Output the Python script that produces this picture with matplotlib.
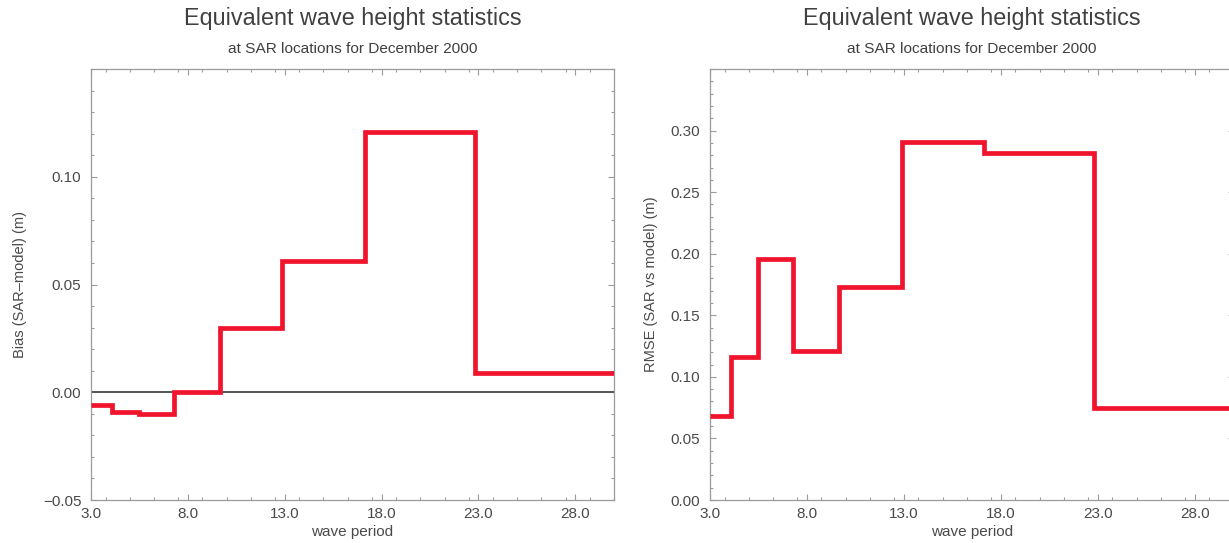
import numpy as np
import matplotlib
matplotlib.use("Agg")
import matplotlib.pyplot as plt
from matplotlib.ticker import MultipleLocator, FormatStrFormatter, FuncFormatter

# wave period bin edges (s)
period_edges = [3.0, 4.08, 5.48, 7.27, 9.66, 12.88, 17.12, 22.81, 30.0]

# statistics per period bin
bias_values = [-0.0061, -0.0092, -0.0101, 0.0003, 0.0298, 0.0611, 0.1208, 0.0090]
rmse_values = [0.068, 0.116, 0.196, 0.121, 0.173, 0.291, 0.282, 0.075]

title_text = "Equivalent wave height statistics"
subtitle_text = "at SAR locations for December 2000"

plt.rcParams['font.family'] = ['Liberation Sans', 'DejaVu Sans']

text_col = "#4a4a4a"
spine_col = "#9a9a9a"
red = "#f0142d"

fig = plt.figure(figsize=(12.29, 5.43), dpi=100)

W, H = 1229.0, 543.0
ax1 = fig.add_axes([91 / W, 43 / H, 523 / W, 431 / H])
ax2 = fig.add_axes([710 / W, 43 / H, 523.5 / W, 431 / H])


def yfmt(v, pos):
    return ("%.2f" % v).replace("-", "\u2212")


def style_axes(ax, ymin, ymax, yticks, ylabel, ylabelpad):
    ax.set_xlim(3.0, 30.0)
    ax.set_ylim(ymin, ymax)
    ax.set_xticks([3.0, 8.0, 13.0, 18.0, 23.0, 28.0])
    ax.xaxis.set_minor_locator(MultipleLocator(1.25))
    ax.set_yticks(yticks)
    ax.yaxis.set_minor_locator(MultipleLocator(0.01))
    ax.xaxis.set_major_formatter(FormatStrFormatter("%.1f"))
    ax.yaxis.set_major_formatter(FuncFormatter(yfmt))
    ax.tick_params(which="both", direction="in", top=True, right=True,
                   color=spine_col, width=0.8, labelcolor=text_col, labelsize=11)
    ax.tick_params(which="major", length=4.5)
    ax.tick_params(which="minor", length=2.2)
    ax.tick_params(axis="x", pad=5)
    ax.tick_params(axis="y", pad=7)
    for s in ax.spines.values():
        s.set_color(spine_col)
        s.set_linewidth(0.9)
    ax.set_xlabel("wave period", fontsize=11, color=text_col, labelpad=3)
    ax.set_ylabel(ylabel, fontsize=10.5, color=text_col, labelpad=ylabelpad)
    ax.set_facecolor("white")

    # titles centred over the axes
    pos = ax.get_position()
    cx = pos.x0 + pos.width / 2
    fig.text(cx, 1 - 18 / H, title_text, ha="center", va="center",
             fontsize=16.8, color="#404040")
    fig.text(cx, 1 - 49 / H, subtitle_text, ha="center", va="center",
             fontsize=11.1, color="#404040")


# Bias panel
style_axes(ax1, -0.05, 0.15, [-0.05, 0.0, 0.05, 0.10], "Bias (SAR\u2013model) (m)", 11.5)
ax1.axhline(0.0, color="#555555", lw=1.4, zorder=2)
ax1.stairs(bias_values, period_edges, baseline=None, color=red, lw=3.4, zorder=3)

# RMSE panel
style_axes(ax2, 0.0, 0.35, [0.0, 0.05, 0.10, 0.15, 0.20, 0.25, 0.30], "RMSE (SAR vs model) (m)", 9)
ax2.stairs(rmse_values, period_edges, baseline=None, color=red, lw=3.4, zorder=3)

fig.savefig("out.png", dpi=100, facecolor="white")
